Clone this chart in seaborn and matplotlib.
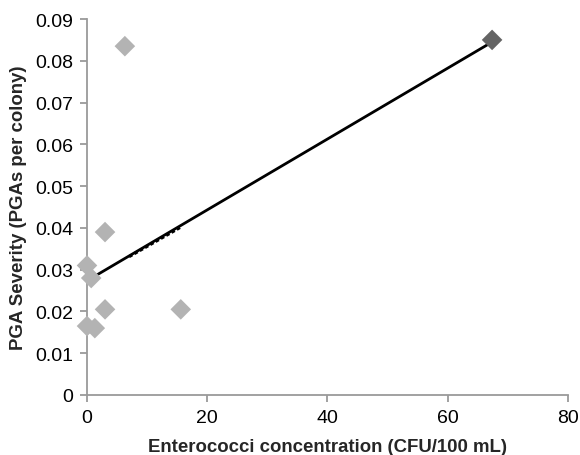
import seaborn as sns
import matplotlib.pyplot as plt
import pandas as pd

# gray points (low concentration sites)
gray_x = [0.0, 1.3, 0.0, 0.7, 3.0, 3.0, 6.3, 15.6]
gray_y = [0.0165, 0.016, 0.031, 0.028, 0.039, 0.0205, 0.0835, 0.0205]
# dark point (outlier site)
dark_x = [67.4]
dark_y = [0.085]
# trendlines
trend_x = [1.6, 67.4]
trend_y = [0.0287, 0.0845]
dotted_x = [7.0, 15.5]
dotted_y = [0.0331, 0.0401]

sns.set_style('white')
plt.rcParams['font.family'] = ['Liberation Sans', 'DejaVu Sans']

fig = plt.figure(figsize=(5.8, 4.56), dpi=100)
ax = fig.add_axes([0.15, 0.1316, 0.829, 0.8245])

df_gray = pd.DataFrame({'x': gray_x, 'y': gray_y})
df_dark = pd.DataFrame({'x': dark_x, 'y': dark_y})

sns.lineplot(x=trend_x, y=trend_y, ax=ax, color='black', linewidth=2, zorder=2)
sns.lineplot(x=dotted_x, y=dotted_y, ax=ax, color='black', linewidth=2.2,
             linestyle=(0, (1.2, 0.8)), zorder=2)
sns.scatterplot(data=df_gray, x='x', y='y', ax=ax, marker='D', s=110,
                color='#b3b3b3', edgecolor='none', zorder=3, clip_on=False)
sns.scatterplot(data=df_dark, x='x', y='y', ax=ax, marker='D', s=110,
                color='#646464', edgecolor='none', zorder=3, clip_on=False)

ax.set_xlim(0, 80)
ax.set_ylim(0, 0.09)
ax.set_xticks([0, 20, 40, 60, 80])
ax.set_yticks([0, 0.01, 0.02, 0.03, 0.04, 0.05, 0.06, 0.07, 0.08, 0.09])
ax.set_yticklabels(['0', '0.01', '0.02', '0.03', '0.04', '0.05', '0.06', '0.07', '0.08', '0.09'])

for s in ['top', 'right']:
    ax.spines[s].set_visible(False)
for s in ['left', 'bottom']:
    ax.spines[s].set_color('#9a9a9a')
    ax.spines[s].set_linewidth(1.3)
ax.tick_params(axis='both', direction='out', length=5, width=1.3, color='#9a9a9a',
               labelsize=14, labelcolor='black', bottom=True, left=True, pad=5)

ax.set_xlabel('Enterococci concentration (CFU/100 mL)', fontsize=13.4, fontweight='bold', labelpad=9)
ax.set_ylabel('PGA Severity (PGAs per colony)', fontsize=13.4, fontweight='bold', labelpad=6)

fig.savefig('out.png', dpi=100)
